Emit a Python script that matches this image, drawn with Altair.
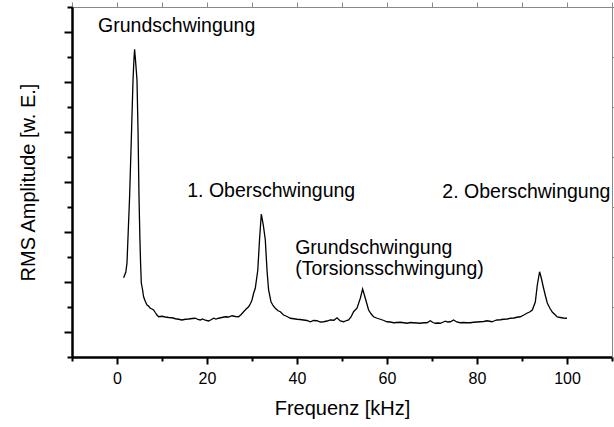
import altair as alt
import pandas as pd

freq = [1.47, 1.96, 2.22, 2.51, 2.80, 3.24, 3.56, 3.76, 3.91, 4.11, 4.44, 4.67, 4.89, 5.07, 5.24, 5.40, 5.69, 5.91, 6.3, 6.67,
        7.0, 7.40, 7.8, 8.13, 8.5, 8.89, 9.24, 10.0, 10.73, 11.5, 12.22, 13.0, 13.69, 14.44, 15.2, 15.91, 16.7, 17.4, 18.0, 18.51,
        19.0, 19.62, 20.36, 21.0, 21.47, 22.0, 22.58, 23.3, 24.07, 24.8, 25.56, 26.3, 27.02, 27.6, 28.13, 28.7, 29.24, 29.7, 30.0, 30.36,
        30.73, 31.29, 31.67, 32.07, 32.51, 32.96, 33.33, 33.69, 34.22, 34.7, 35.18, 35.8, 36.29, 37.02, 37.8, 38.51, 39.3, 40.0, 40.7, 41.47,
        42.2, 42.96, 43.7, 44.44, 45.2, 45.91, 46.7, 47.4, 48.2, 48.89, 49.62, 50.36, 51.0, 51.47, 52.0, 52.58, 53.33, 54.07, 54.58, 55.18,
        55.91, 56.5, 57.02, 57.8, 58.51, 59.3, 60.0, 60.7, 61.47, 62.2, 62.96, 63.7, 64.44, 65.2, 65.91, 66.7, 67.4, 68.2, 68.89, 69.62,
        70.2, 70.73, 71.3, 71.84, 72.4, 72.96, 73.5, 74.07, 74.8, 75.5, 76.29, 77.0, 77.78, 78.5, 79.24, 80.0, 80.73, 81.5, 82.22, 82.8,
        83.33, 83.9, 84.44, 85.2, 85.91, 86.7, 87.4, 88.2, 88.89, 89.62, 90.4, 91.18, 91.7, 92.29, 92.96, 93.4, 93.91, 94.29, 94.73, 95.2,
        95.62, 96.2, 96.73, 97.3, 97.84, 98.5, 99.18, 100.0]

amp = [3.17, 3.40, 3.76, 5.08, 6.41, 9.08, 11.08, 11.88, 12.31, 11.88, 11.08, 9.08, 6.41, 4.88, 3.76, 2.96, 2.68, 2.41, 2.22, 2.08,
       2.04, 1.95, 1.92, 1.88, 1.78, 1.68, 1.61, 1.63, 1.60, 1.58, 1.57, 1.53, 1.51, 1.48, 1.51, 1.52, 1.54, 1.55, 1.50, 1.48,
       1.52, 1.47, 1.44, 1.50, 1.55, 1.52, 1.55, 1.58, 1.61, 1.60, 1.65, 1.62, 1.61, 1.70, 1.81, 1.92, 2.01, 2.15, 2.28, 2.55,
       2.75, 3.48, 4.68, 5.72, 5.28, 4.68, 3.48, 2.68, 2.21, 2.05, 1.95, 1.85, 1.81, 1.68, 1.62, 1.55, 1.53, 1.51, 1.50, 1.48,
       1.46, 1.41, 1.46, 1.45, 1.40, 1.41, 1.44, 1.48, 1.47, 1.57, 1.44, 1.41, 1.46, 1.48, 1.60, 1.81, 1.95, 2.35, 2.72, 2.35,
       1.88, 1.72, 1.61, 1.55, 1.51, 1.46, 1.41, 1.40, 1.37, 1.38, 1.39, 1.37, 1.35, 1.38, 1.37, 1.36, 1.35, 1.37, 1.37, 1.45,
       1.38, 1.35, 1.36, 1.35, 1.39, 1.43, 1.40, 1.41, 1.48, 1.40, 1.37, 1.38, 1.37, 1.37, 1.39, 1.40, 1.41, 1.42, 1.45, 1.43,
       1.41, 1.45, 1.48, 1.49, 1.51, 1.52, 1.55, 1.56, 1.59, 1.61, 1.68, 1.76, 1.80, 1.88, 2.20, 2.88, 3.41, 3.16, 2.80, 2.45,
       2.16, 1.95, 1.80, 1.70, 1.60, 1.58, 1.56, 1.55]

label_text = ["Grundschwingung", "1. Oberschwingung", "Grundschwingung", "(Torsionsschwingung)", "2. Oberschwingung"]
label_x = [-4.2, 15.6, 39.6, 39.6, 72.3]
label_y = [13.0, 6.4, 4.12, 3.28, 6.36]

x_major = [0, 20, 40, 60, 80, 100]
x_minor = [-10, 10, 30, 50, 70, 90, 110]
y_major = [1, 3, 5, 7, 9, 11, 13]
y_minor = [0, 2, 4, 6, 8, 10, 12, 14]

FONT = "Liberation Sans"

df = pd.DataFrame({"f": freq, "a": amp})
labels = pd.DataFrame({"t": label_text, "x": label_x, "y": label_y})

xscale = alt.Scale(domain=[-10, 110], nice=False, zero=False)
yscale = alt.Scale(domain=[0, 14], nice=False, zero=False)

common_axis = dict(grid=False, domainColor="black", tickColor="black", domainWidth=2, tickWidth=2,
                   labelColor="black", titleColor="black", labelFont=FONT, titleFont=FONT,
                   titleFontWeight="normal")

line = alt.Chart(df).mark_line(color="black", strokeWidth=1.3).encode(
    x=alt.X("f:Q", scale=xscale,
            axis=alt.Axis(title="Frequenz [kHz]", values=x_major, tickSize=7, labelFontSize=16,
                          labelPadding=6, titleFontSize=20, titlePadding=12, orient="bottom", **common_axis)),
    y=alt.Y("a:Q", scale=yscale,
            axis=alt.Axis(title="RMS Amplitude [w. E.]", values=y_major, tickSize=8, labels=False,
                          titleFontSize=20, titlePadding=25, orient="left", **common_axis)),
)

minor = alt.Chart(df).mark_line(opacity=0).encode(
    x=alt.X("f:Q", scale=xscale,
            axis=alt.Axis(title=None, values=x_minor, tickSize=4, labels=False, orient="bottom", **common_axis)),
    y=alt.Y("a:Q", scale=yscale,
            axis=alt.Axis(title=None, values=y_minor, tickSize=5, labels=False, orient="left", **common_axis)),
)

text = alt.Chart(labels).mark_text(align="left", baseline="alphabetic", font=FONT, fontSize=19.5,
                                   color="black").encode(
    x=alt.X("x:Q", scale=xscale),
    y=alt.Y("y:Q", scale=yscale),
    text="t:N",
)

chart = alt.layer(line, minor, text).resolve_axis(x="independent", y="independent").properties(
    width=540, height=350,
    autosize=alt.AutoSizeParams(type="none"),
    padding={"left": 72, "top": 7, "right": 2, "bottom": 70},
).configure_view(stroke=None).configure(background="white")

chart.save("out.html", embed_options={"renderer": "svg", "actions": False})
